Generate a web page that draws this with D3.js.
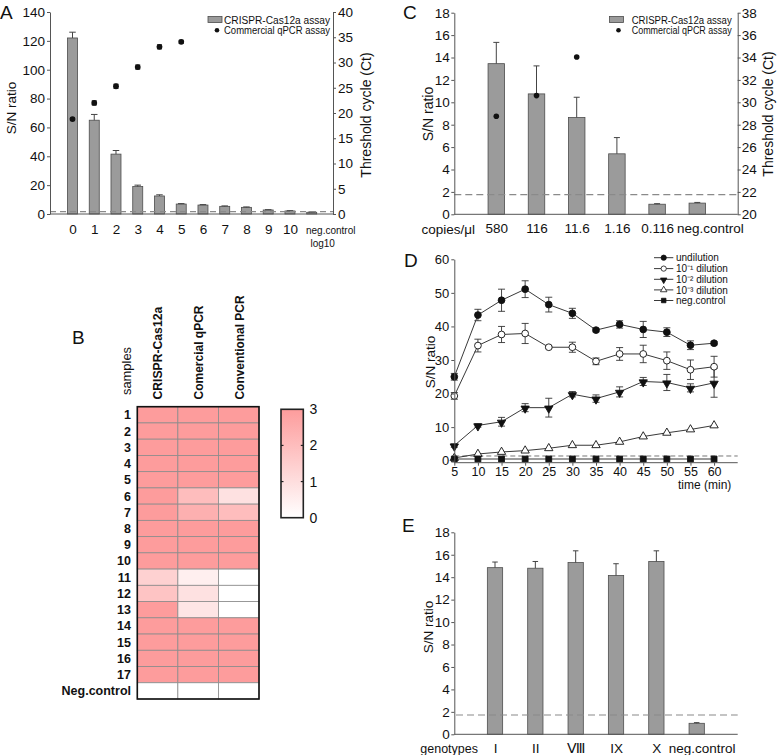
<!DOCTYPE html>
<html><head><meta charset="utf-8">
<script src="https://cdn.jsdelivr.net/npm/d3@7"></script>
<style>
body{margin:0;background:#fff}
text{font-family:"Liberation Sans",Arial,Helvetica,sans-serif;fill:#111}
</style>
</head><body>
<svg id="c" width="778" height="755"></svg>
<script>
// ---------------- DATA ----------------
// Panel A
const aCategories = ["0","1","2","3","4","5","6","7","8","9","10","neg.control"];
const aSN    = [122, 65, 41.5, 19, 12.5, 6.9, 6.2, 5.3, 4.6, 2.8, 2.1, 1.2];
const aSNerr = [4, 4, 2.5, 1, 0.8, 0.3, 0.3, 0.3, 0.3, 0.2, 0.2, 0.2];
const aCtCategories = ["0","1","2","3","4","5"];
const aCt    = [18.8, 22, 25.3, 29.1, 33.1, 34.1];
const aCtErr = [0.2, 0.4, 0.4, 0.4, 0.4, 0.3];
const aLeftTicks  = [0,20,40,60,80,100,120,140];
const aRightTicks = [0,5,10,15,20,25,30,35,40];
const aThreshold = 1.7;

// Panel B (heatmap, 0-3)
const bRows = ["1","2","3","4","5","6","7","8","9","10","11","12","13","14","15","16","17","Neg.control"];
const bCols = ["CRISPR-Cas12a","Comercial qPCR","Conventional PCR"];
const bCRISPR = [3,3,3,3,3,3,3,3,3,3,1.4,1.8,3,3,3,3,3,0];
const bQPCR   = [3,3,3,3,3,2.0,2.4,3,3,3,0.5,0.9,0.8,3,3,3,3,0];
const bPCR    = [3,3,3,3,3,0.9,2.0,3,3,3,0,0,0,3,3,3,3,0];
const bScaleTicks = [0,1,2,3];

// Panel C
const cCategories = ["580","116","11.6","1.16","0.116","neg.control"];
const cSN    = [13.45, 10.75, 8.65, 5.4, 0.9, 1.0];
const cSNerr = [1.9, 2.5, 1.8, 1.45, 0.05, 0.06];
const cCtCategories = ["580","116","11.6"];
const cCt = [28.75, 30.6, 34.05];
const cLeftTicks  = [0,2,4,6,8,10,12,14,16,18];
const cRightTicks = [20,22,24,26,28,30,32,34,36,38];
const cThreshold = 1.75;

// Panel D
const dTime = [5,10,15,20,25,30,35,40,45,50,55,60];
const dUndil    = [25.0,43.4,47.8,51.1,46.5,43.9,38.9,40.6,39.1,38.3,34.4,35.0];
const dUndilErr = [1.0,1.7,3.3,2.5,2.2,1.5,0.5,1.1,2.4,1.3,1.3,0.5];
const dDil1     = [19.3,34.3,37.6,37.9,33.8,33.8,29.6,31.8,31.8,29.8,27.1,28.0];
const dDil1Err  = [1.0,1.9,2.4,3.0,0.3,1.5,1.0,1.9,2.6,2.6,2.9,3.1];
const dDil2     = [4.5,10.5,11.6,15.8,15.8,19.8,18.5,20.5,23.6,23.3,21.7,23.2];
const dDil2Err  = [0.5,0.5,1.3,1.2,2.8,0.8,1.1,1.5,1.2,2.4,1.2,4.3];
const dDil3     = [0.8,2.0,2.6,3.0,3.7,4.6,4.6,5.6,7.2,8.3,9.3,10.5];
const dDil3Err  = [0.2,0.2,0.2,0.2,0.2,0.2,0.2,0.2,0.2,0.2,0.2,0.2];
const dNeg      = [0.5,0.5,0.5,0.5,0.5,0.5,0.5,0.5,0.5,0.5,0.5,0.5];
const dNegErr   = [0,0,0,0,0,0,0,0,0,0,0,0];
const dSeriesNames = ["undilution","10⁻¹ dilution","10⁻² dilution","10⁻³ dilution","neg.control"];
const dYTicks = [0,10,20,30,40,50,60];
const dXTicks = [5,10,15,20,25,30,35,40,45,50,55,60];
const dThreshold = 1.4;

// Panel E
const eCategories = ["I","II","Ⅷ","IX","X","neg.control"];
const eSN    = [14.85, 14.8, 15.3, 14.15, 15.4, 0.98];
const eSNerr = [0.5, 0.6, 1.05, 1.05, 0.95, 0.06];
const eTicks = [0,2,4,6,8,10,12,14,16,18];
const eThreshold = 1.72;

// ---------------- HELPERS ----------------
const svg = d3.select("#c");
const AX = "#555", BAR = "#9b9b9b", BARSTROKE = "#4d4d4d", ERR = "#444";

function styleAxis(g, fs) {
  g.selectAll("path.domain").attr("stroke", AX).attr("stroke-width", 1);
  g.selectAll(".tick line").attr("stroke", AX);
  g.selectAll(".tick text").attr("font-size", fs).attr("fill", "#111")
    .attr("font-family", '"Liberation Sans",Arial,sans-serif');
  return g;
}
function line(g, x1, y1, x2, y2, stroke, sw, dash) {
  const l = g.append("line").attr("x1", x1).attr("y1", y1).attr("x2", x2).attr("y2", y2)
    .attr("stroke", stroke).attr("stroke-width", sw || 1);
  if (dash) l.attr("stroke-dasharray", dash);
  return l;
}
function label(g, txt, x, y, fs, anchor, rot, weight) {
  const t = g.append("text").attr("font-size", fs).attr("text-anchor", anchor || "middle")
    .text(txt);
  if (weight) t.attr("font-weight", weight);
  t.attr("transform", `translate(${x},${y})` + (rot ? ` rotate(${rot})` : ""));
  return t;
}
function bars(g, cats, vals, errs, x, y, bw, capW) {
  const data = cats.map((c, i) => ({c, v: vals[i], e: errs[i]}));
  g.selectAll(null).data(data).join("rect")
    .attr("x", d => x(d.c) - bw / 2).attr("y", d => y(d.v))
    .attr("width", bw).attr("height", d => y(0) - y(d.v))
    .attr("fill", BAR).attr("stroke", BARSTROKE).attr("stroke-width", 0.8);
  data.forEach(d => {
    line(g, x(d.c), y(d.v), x(d.c), y(d.v + d.e), ERR, 1);
    line(g, x(d.c) - capW / 2, y(d.v + d.e), x(d.c) + capW / 2, y(d.v + d.e), ERR, 1);
  });
}
function legendBarDot(g, rx, ry, tStart, tLen) {
  g.append("rect").attr("x", rx).attr("y", ry).attr("width", 14).attr("height", 6)
    .attr("fill", BAR).attr("stroke", BARSTROKE).attr("stroke-width", 0.8);
  label(g, "CRISPR-Cas12a assay", tStart, ry + 7, 10, "start")
    .attr("textLength", tLen).attr("lengthAdjust", "spacingAndGlyphs");
  g.append("circle").attr("cx", rx + 9).attr("cy", ry + 13.8).attr("r", 2.3).attr("fill", "#111");
  label(g, "Commercial qPCR assay", tStart, ry + 17.5, 10, "start")
    .attr("textLength", tLen).attr("lengthAdjust", "spacingAndGlyphs");
}

// ---------------- PANEL A ----------------
{
  const g = svg.append("g");
  const x = d3.scalePoint().domain(aCategories).range([72.5, 311.7]);
  const yL = d3.scaleLinear().domain([0, 140]).range([214, 12]);
  const yR = d3.scaleLinear().domain([0, 40]).range([214, 12]);
  bars(g, aCategories, aSN, aSNerr, x, yL, 10, 6.5);
  line(g, 50, yL(aThreshold), 333, yL(aThreshold), "#8a8a8a", 1.2, "6,4");
  aCtCategories.forEach((c, i) => {
    const cx = x(c);
    line(g, cx, yR(aCt[i] - aCtErr[i]), cx, yR(aCt[i] + aCtErr[i]), "#111", 1);
    line(g, cx - 2.5, yR(aCt[i] + aCtErr[i]), cx + 2.5, yR(aCt[i] + aCtErr[i]), "#111", 1);
    line(g, cx - 2.5, yR(aCt[i] - aCtErr[i]), cx + 2.5, yR(aCt[i] - aCtErr[i]), "#111", 1);
    g.append("circle").attr("cx", cx).attr("cy", yR(aCt[i])).attr("r", 2.9).attr("fill", "#111");
  });
  styleAxis(g.append("g").attr("transform", "translate(50,0)")
    .call(d3.axisLeft(yL).tickValues(aLeftTicks).tickSize(3).tickSizeOuter(0).tickPadding(2)), 13.5);
  styleAxis(g.append("g").attr("transform", "translate(333,0)")
    .call(d3.axisRight(yR).tickValues(aRightTicks).tickSize(3).tickSizeOuter(0).tickPadding(2)), 13.5);
  line(g, 50, 214, 333, 214, AX, 1);
  const xb = g.append("g").attr("transform", "translate(0,214)")
    .call(d3.axisBottom(x).tickSize(0).tickPadding(10));
  xb.select("path.domain").remove();
  styleAxis(xb, 13.5);
  xb.selectAll(".tick text").filter(d => d === "neg.control")
    .attr("font-size", 10).attr("dx", 18.5).attr("dy", "0.95em");
  label(g, "log10", x("neg.control") + 11, 247, 10, "middle");
  label(g, "S/N ratio", 15.5, 108, 13.5, "middle", -90);
  label(g, "Threshold cycle (Ct)", 371, 115, 14, "middle", -90);
  legendBarDot(g, 208, 16.5, 224, 106);
  label(g, "A", 0, 18.5, 19, "start");
}

// ---------------- PANEL B ----------------
{
  const g = svg.append("g");
  const y = d3.scaleBand().domain(bRows).range([406.7, 699]);
  const x = d3.scaleBand().domain(bCols).range([137.3, 259]);
  const colVals = [bCRISPR, bQPCR, bPCR];
  const headerLen = [92.7, 94, 104];
  const color = d3.scaleLinear().domain([0, 3]).range(["#ffffff", "#fd9c9c"]);
  const cells = [];
  bCols.forEach((c, j) => bRows.forEach((r, i) => cells.push({r, c, v: colVals[j][i]})));
  g.selectAll(null).data(cells).join("rect")
    .attr("x", d => x(d.c)).attr("y", d => y(d.r))
    .attr("width", x.bandwidth()).attr("height", y.bandwidth())
    .attr("fill", d => color(d.v)).attr("stroke", "#8c8c8c").attr("stroke-width", 0.8);
  g.append("rect").attr("x", 137.3).attr("y", 406.7).attr("width", 259 - 137.3).attr("height", 699 - 406.7)
    .attr("fill", "none").attr("stroke", "#111").attr("stroke-width", 1.6);
  bRows.forEach(r => {
    g.append("text").attr("x", 131).attr("y", y(r) + y.bandwidth() / 2).attr("dy", "0.36em")
      .attr("text-anchor", "end").attr("font-size", 12.5).attr("font-weight", "bold").text(r);
  });
  bCols.forEach((c, j) => {
    label(g, c, x(c) + x.bandwidth() / 2 + 4.8, 399.5, 13, "start", -90, "bold")
      .attr("textLength", headerLen[j]).attr("lengthAdjust", "spacingAndGlyphs");
  });
  label(g, "samples", 130.5, 395, 13, "start", -90)
    .attr("textLength", 48).attr("lengthAdjust", "spacingAndGlyphs");
  label(g, "B", 72, 343.5, 19, "start");
  const defs = svg.append("defs");
  const grad = defs.append("linearGradient").attr("id", "hg").attr("x1", 0).attr("y1", 1).attr("x2", 0).attr("y2", 0);
  grad.append("stop").attr("offset", "0%").attr("stop-color", color(0));
  grad.append("stop").attr("offset", "100%").attr("stop-color", color(3));
  const cy = d3.scaleLinear().domain([0, 3]).range([517.7, 409.3]);
  g.append("rect").attr("x", 281).attr("y", cy(3)).attr("width", 22.3).attr("height", cy(0) - cy(3))
    .attr("fill", "url(#hg)").attr("stroke", "#222").attr("stroke-width", 1.6);
  bScaleTicks.forEach(t => {
    if (t > 0 && t < 3) {
      line(g, 281, cy(t), 283.5, cy(t), "#222", 1.2);
      line(g, 300.8, cy(t), 303.3, cy(t), "#222", 1.2);
    }
    g.append("text").attr("x", 309.5).attr("y", cy(t)).attr("dy", "0.36em")
      .attr("font-size", 14).attr("fill", "#333").text(t);
  });
}

// ---------------- PANEL C ----------------
{
  const g = svg.append("g");
  const x = d3.scalePoint().domain(cCategories).range([496.3, 697.3]);
  const yL = d3.scaleLinear().domain([0, 18]).range([214.3, 12.7]);
  const yR = d3.scaleLinear().domain([20, 38]).range([214.3, 12.7]);
  bars(g, cCategories, cSN, cSNerr, x, yL, 16.5, 6);
  line(g, 454.3, yL(cThreshold), 737.7, yL(cThreshold), "#8a8a8a", 1.2, "7,4");
  cCtCategories.forEach((c, i) => {
    g.append("circle").attr("cx", x(c)).attr("cy", yR(cCt[i])).attr("r", 2.8).attr("fill", "#111");
  });
  styleAxis(g.append("g").attr("transform", "translate(454.3,0)")
    .call(d3.axisLeft(yL).tickValues(cLeftTicks).tickSize(3).tickSizeOuter(0).tickPadding(1.5)), 13.5);
  styleAxis(g.append("g").attr("transform", "translate(737.7,0)")
    .call(d3.axisRight(yR).tickValues(cRightTicks).tickSize(3).tickSizeOuter(0).tickPadding(1)), 13.5);
  line(g, 454.3, 214.3, 737.7, 214.3, AX, 1);
  const xb = g.append("g").attr("transform", "translate(0,214.3)")
    .call(d3.axisBottom(x).tickSize(0).tickPadding(9.5));
  xb.select("path.domain").remove();
  styleAxis(xb, 13.5);
  xb.selectAll(".tick text").filter(d => d === "neg.control").attr("dx", 12.5);
  label(g, "copies/μl", 475, 233.8, 13.5, "end");
  label(g, "S/N ratio", 433, 114, 14, "middle", -90);
  label(g, "Threshold cycle (Ct)", 773, 114, 14, "middle", -90);
  legendBarDot(g, 609.5, 16.5, 631.7, 100);
  label(g, "C", 403, 18.5, 19, "start");
}

// ---------------- PANEL D ----------------
{
  const g = svg.append("g");
  const x = d3.scaleLinear().domain([5, 65]).range([454.3, 737.7]);
  const y = d3.scaleLinear().domain([-0.6, 60]).range([462.7, 259.3]);
  line(g, 454.3, y(dThreshold), 737.7, y(dThreshold), "#777", 1, "5,3");
  const series = [
    {vals: dUndil, errs: dUndilErr, sym: d3.symbolCircle, size: 36, fill: "#111", rot: 0},
    {vals: dDil1, errs: dDil1Err, sym: d3.symbolCircle, size: 36, fill: "#fff", rot: 0},
    {vals: dDil2, errs: dDil2Err, sym: d3.symbolTriangle, size: 30, fill: "#111", rot: 180},
    {vals: dDil3, errs: dDil3Err, sym: d3.symbolTriangle, size: 30, fill: "#fff", rot: 0},
    {vals: dNeg, errs: dNegErr, sym: d3.symbolSquare, size: 34, fill: "#111", rot: 0}
  ];
  series.forEach((s, k) => s.name = dSeriesNames[k]);
  const ln = d3.line().x((d, i) => x(dTime[i])).y(d => y(d));
  series.forEach(s => {
    g.append("path").attr("d", ln(s.vals)).attr("fill", "none").attr("stroke", "#222").attr("stroke-width", 0.9);
  });
  series.forEach(s => {
    s.vals.forEach((v, i) => {
      const e = s.errs[i];
      if (e > 0.25) {
        const cx = x(dTime[i]);
        line(g, cx, y(v - e), cx, y(v + e), "#333", 0.9);
        line(g, cx - 3.5, y(v + e), cx + 3.5, y(v + e), "#333", 0.9);
        line(g, cx - 3.5, y(v - e), cx + 3.5, y(v - e), "#333", 0.9);
      }
    });
  });
  series.forEach(s => {
    g.selectAll(null).data(s.vals).join("path")
      .attr("d", d3.symbol(s.sym, s.size))
      .attr("transform", (d, i) => `translate(${x(dTime[i])},${y(d) + (s.rot ? 0.8 : 0)}) rotate(${s.rot})`)
      .attr("fill", s.fill).attr("stroke", "#111").attr("stroke-width", 0.9);
  });
  styleAxis(g.append("g").attr("transform", "translate(454.3,0)")
    .call(d3.axisLeft(y).tickValues(dYTicks).tickSize(3).tickSizeOuter(0).tickPadding(2)), 13);
  line(g, 454.3, 462.7, 737.7, 462.7, AX, 1);
  const xb = g.append("g").attr("transform", "translate(0,462.7)")
    .call(d3.axisBottom(x).tickValues(dXTicks).tickSize(3).tickSizeOuter(0).tickPadding(1.5));
  xb.select("path.domain").remove();
  styleAxis(xb, 12.5);
  label(g, "time (min)", 678, 489, 12, "start");
  label(g, "S/N ratio", 435, 362, 13.5, "middle", -90);
  label(g, "D", 404, 266.5, 19, "start");
  const ly = [257.7, 268.6, 279.3, 289.9, 300.5];
  series.forEach((s, k) => {
    line(g, 654, ly[k], 673.3, ly[k], "#222", 0.9);
    g.append("path").attr("d", d3.symbol(s.sym, s.size * 0.6))
      .attr("transform", `translate(663.7,${ly[k] + (s.rot ? 0.6 : 0)}) rotate(${s.rot})`)
      .attr("fill", s.fill).attr("stroke", "#111").attr("stroke-width", 0.8);
    g.append("text").attr("x", 676).attr("y", ly[k]).attr("dy", "0.36em")
      .attr("font-size", 10).text(s.name);
  });
}

// ---------------- PANEL E ----------------
{
  const g = svg.append("g");
  const x = d3.scalePoint().domain(eCategories).range([495, 696.7]);
  const y = d3.scaleLinear().domain([0, 18]).range([734.3, 532.3]);
  bars(g, eCategories, eSN, eSNerr, x, y, 15.3, 5.5);
  line(g, 456, y(eThreshold), 737.7, y(eThreshold), "#8a8a8a", 1.2, "7,4");
  styleAxis(g.append("g").attr("transform", "translate(454.3,0)")
    .call(d3.axisLeft(y).tickValues(eTicks).tickSize(3).tickSizeOuter(0).tickPadding(1.5)), 13.5);
  line(g, 454.3, 734.3, 737.7, 734.3, AX, 1);
  const xb = g.append("g").attr("transform", "translate(0,734.3)")
    .call(d3.axisBottom(x).tickSize(0).tickPadding(9));
  xb.select("path.domain").remove();
  styleAxis(xb, 13.5);
  xb.selectAll(".tick text").filter(d => d === "neg.control").attr("dx", 5);
  label(g, "genotypes", 478, 753.3, 12.5, "end");
  label(g, "S/N ratio", 433, 627, 13.5, "middle", -90);
  label(g, "E", 402, 532, 19, "start");
}
</script>
</body></html>
